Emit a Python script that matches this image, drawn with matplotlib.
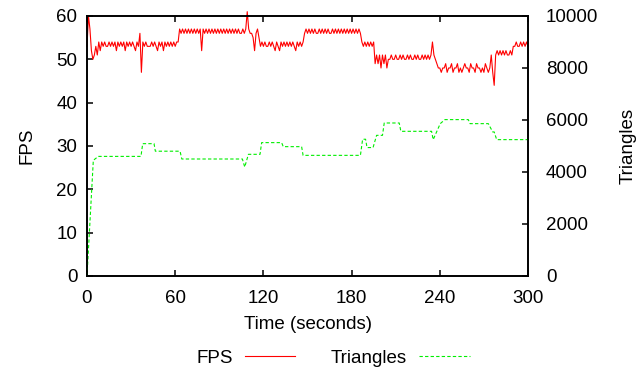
import numpy as np
import matplotlib
matplotlib.use("Agg")
import matplotlib.pyplot as plt

plt.rcParams['font.family'] = ['Liberation Sans', 'DejaVu Sans']
plt.rcParams['font.size'] = 13.5

# FPS, one sample per second (t = 0..300)
fps = [
    53, 60, 57, 52, 50, 51, 53, 51, 54, 52,
    54, 53, 54, 53, 53, 54, 53, 54, 53, 54,
    52, 54, 53, 54, 53, 54, 52, 54, 53, 54,
    53, 54, 53, 52, 54, 53, 56, 47, 54, 53,
    54, 53, 53, 53, 54, 53, 54, 53, 52, 54,
    53, 54, 52, 54, 53, 54, 53, 54, 53, 54,
    53, 54, 54, 57, 56, 57, 56, 57, 56, 57,
    56, 57, 56, 57, 56, 57, 56, 57, 52, 57,
    56, 57, 56, 57, 56, 57, 56, 57, 56, 57,
    56, 57, 56, 57, 56, 57, 56, 57, 56, 57,
    56, 57, 56, 57, 56, 56, 57, 56, 57, 61,
    57, 56, 56, 55, 52, 56, 57, 55, 53, 54,
    53, 54, 53, 53, 54, 53, 54, 53, 52, 54,
    53, 52, 54, 53, 54, 53, 54, 53, 54, 53,
    54, 53, 52, 54, 53, 54, 53, 54, 56, 57,
    56, 57, 56, 57, 56, 57, 56, 56, 57, 56,
    57, 56, 57, 56, 57, 56, 56, 57, 56, 57,
    56, 57, 56, 57, 56, 57, 56, 57, 56, 57,
    56, 57, 56, 57, 56, 57, 56, 54, 53, 54,
    53, 54, 53, 54, 53, 54, 49, 51, 49, 51,
    48, 51, 49, 51, 48, 50, 50, 51, 50, 50,
    51, 50, 50, 51, 50, 51, 50, 50, 51, 50,
    51, 50, 50, 51, 50, 51, 50, 50, 51, 50,
    51, 50, 51, 50, 51, 54, 51, 50, 49, 48,
    48, 47, 48, 48, 49, 47, 48, 48, 49, 47,
    48, 48, 49, 47, 48, 47, 48, 49, 48, 48,
    47, 49, 48, 48, 47, 49, 48, 48, 47, 48,
    47, 49, 48, 47, 48, 51, 47, 44, 51, 52,
    51, 52, 51, 52, 51, 52, 51, 51, 52, 51,
    53, 53, 54, 53, 53, 54, 53, 54, 53, 54,
    53,
]
fps_time = np.arange(len(fps))

# Triangles, breakpoints
tri_time = [0, 4.3, 7.7, 36.7, 37.9, 45.6, 46.5, 63.3, 64.5, 105.7,
            107.3, 109.8, 117.7, 118.8, 132.4, 133.5, 146, 147, 186, 187.5,
            189.5, 190.5, 194.6, 197, 201, 202.2, 212.4, 213.5, 234.4, 235.5,
            240.3, 243.5, 259.4, 260.5, 273, 276, 277, 278.7, 300]
triangles = [0, 4450, 4600, 4600, 5090, 5090, 4800, 4800, 4500, 4500,
             4190, 4680, 4680, 5130, 5130, 4975, 4975, 4640, 4640, 5260,
             5260, 4940, 4940, 5410, 5410, 5885, 5885, 5565, 5565, 5245,
             5860, 6015, 6015, 5860, 5860, 5540, 5540, 5245, 5245]

fig = plt.figure(figsize=(6.38, 3.73), dpi=100)
ax = fig.add_axes([87/638, 1 - 276/373, (528 - 87)/638, (276 - 16)/373])
ax2 = ax.twinx()

l1, = ax.plot(fps_time, fps, color='#ff0000', linewidth=0.8, clip_on=False, label='FPS')
l2, = ax2.plot(tri_time, triangles, color='#00ee00', linewidth=0.8,
               dashes=(3, 2), label='Triangles')

ax.set_xlim(0, 300)
ax.set_ylim(0, 60)
ax2.set_ylim(0, 10000)
ax.set_xticks(np.arange(0, 301, 60))
ax.set_yticks(np.arange(0, 61, 10))
ax2.set_yticks(np.arange(0, 10001, 2000))

ax.tick_params(direction='in', length=4.5, width=1.1, top=True, pad=7)
ax.tick_params(axis='x', pad=10)
ax2.tick_params(direction='in', length=4.5, width=1.1, pad=13)
for a in (ax, ax2):
    for s in a.spines.values():
        s.set_linewidth(1.2)

ax.set_xlabel('Time (seconds)')
ax.set_ylabel('FPS')
ax2.set_ylabel('Triangles', rotation=90)
ax.xaxis.set_label_coords(0.5, -0.185)
ax.xaxis.label.set_va('center')
ax.yaxis.set_label_coords((27 - 87)/441, 0.5)
ax.yaxis.label.set_va('center')
ax2.yaxis.set_label_coords((628 - 87)/441, 0.5)
ax2.yaxis.label.set_va('center')

fig.legend([l1, l2], ['FPS', 'Triangles'], loc='center',
           bbox_to_anchor=(333/638, 1 - 358/373), ncol=2, frameon=False,
           markerfirst=False, handlelength=2.7, handletextpad=0.65,
           columnspacing=1.9, borderpad=0)

fig.savefig('out.png', dpi=100)
